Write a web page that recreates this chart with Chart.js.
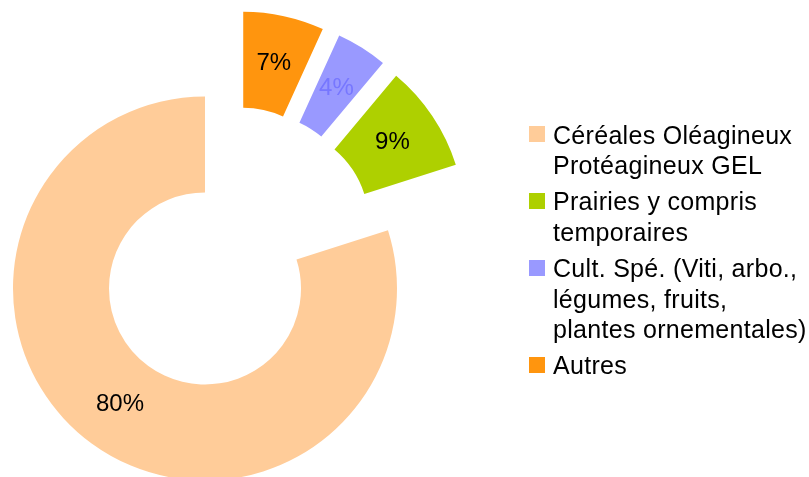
<!DOCTYPE html>
<html>
<head>
<meta charset="utf-8">
<script src="https://cdn.jsdelivr.net/npm/chart.js@4"></script>
<style>
  html, body { margin: 0; padding: 0; background: #fff; }
  body { width: 809px; height: 477px; position: relative; overflow: hidden; font-family: "Liberation Sans", Arial, sans-serif; }
  #chart { position: absolute; left: 0; top: 0; }
  #legend { position: absolute; left: 529px; top: 119.5px; display: flex; flex-direction: column; gap: 6.3px; }
  .item { display: flex; align-items: flex-start; }
  .box { width: 16px; height: 16px; margin-top: 6.5px; margin-right: 8px; flex: none; }
  .txt { font-size: 25px; line-height: 30.3px; letter-spacing: 0.3px; color: #000; white-space: nowrap; }
</style>
</head>
<body>
<canvas id="chart" width="809" height="477"></canvas>
<div id="legend"></div>
<script>
// legend order
const categories = [
    ['Céréales Oléagineux', 'Protéagineux GEL'],
    ['Prairies y compris', 'temporaires'],
    ['Cult. Spé. (Viti, arbo.,', 'légumes, fruits,', 'plantes ornementales)'],
    ['Autres']
]
const shares = [79.9, 9.0, 4.3, 6.8]

const colors = ['#ffcc99', '#aed000', '#9999ff', '#ff950e']
const labelColors = ['#000000', '#000000', '#7777ff', '#000000']
// pulled out slices: distance in px, direction in degrees clockwise from 12 o'clock
const explodeDist = [0, 94.3, 95.5, 92.9]
const explodeDir = [0, 46, 34.9, 24.3]

// the slices run counter clockwise from the top, so the chart gets them reversed
const order = [3, 2, 1, 0]

function shift(i) {
    const a = explodeDir[i] * Math.PI / 180
    return [Math.sin(a) * explodeDist[i], -Math.cos(a) * explodeDist[i]]
}

const explodePlugin = {
    id: 'explode',
    beforeDatasetDraw(chart, args) {
        const ctx = chart.ctx
        args.meta.data.forEach((arc, j) => {
            const [dx, dy] = shift(order[j])
            ctx.save()
            ctx.translate(dx, dy)
            arc.draw(ctx)
            ctx.restore()
        })
        return false
    },
    afterDatasetsDraw(chart) {
        const ctx = chart.ctx
        const meta = chart.getDatasetMeta(0)
        const total = shares.reduce((a, b) => a + b, 0)
        ctx.save()
        ctx.font = '24px "Liberation Sans", Arial, sans-serif'
        ctx.textAlign = 'center'
        ctx.textBaseline = 'middle'
        meta.data.forEach((arc, j) => {
            const i = order[j]
            const p = arc.tooltipPosition()
            const [dx, dy] = shift(i)
            ctx.fillStyle = labelColors[i]
            ctx.fillText(Math.round(shares[i] / total * 100) + '%', p.x + dx, p.y + dy)
        })
        ctx.restore()
    }
}

new Chart(document.getElementById('chart'), {
    type: 'doughnut',
    data: {
        labels: order.map(i => categories[i].join(' ')),
        datasets: [{
            data: order.map(i => shares[i]),
            backgroundColor: order.map(i => colors[i]),
            borderWidth: 0
        }]
    },
    options: {
        responsive: false,
        animation: false,
        devicePixelRatio: 1,
        events: [],
        cutout: '50%',
        radius: 192,
        layout: { padding: { left: 0, right: 399, top: 100, bottom: 0 } },
        plugins: {
            legend: { display: false },
            tooltip: { enabled: false }
        }
    },
    plugins: [explodePlugin]
})

// legend as html, multi line labels
const legend = document.getElementById('legend')
for (let i = 0; i < categories.length; i++) {
    const item = document.createElement('div')
    item.className = 'item'
    const box = document.createElement('div')
    box.className = 'box'
    box.style.background = colors[i]
    const txt = document.createElement('div')
    txt.className = 'txt'
    categories[i].forEach((line, k) => {
        if (k > 0) txt.appendChild(document.createElement('br'))
        txt.appendChild(document.createTextNode(line))
    })
    item.appendChild(box)
    item.appendChild(txt)
    legend.appendChild(item)
}
</script>
</body>
</html>
